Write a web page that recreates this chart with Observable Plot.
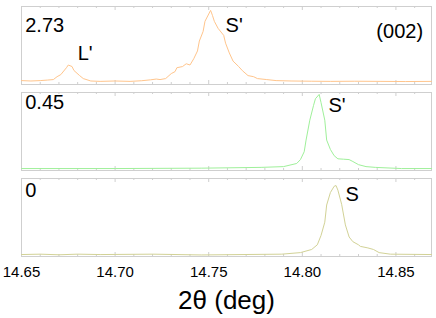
<!DOCTYPE html>
<html>
<head>
<meta charset="utf-8">
<script src="https://cdn.jsdelivr.net/npm/d3@7"></script>
<script src="https://cdn.jsdelivr.net/npm/@observablehq/plot@0.6"></script>
<style>
  html, body { margin: 0; padding: 0; background: #fff; }
  g[aria-label="x-axis label"] text { font-size: 26px; }
</style>
</head>
<body>
<div id="chart"></div>
<script>
// Panel names (field value shown in each panel)
const panels = ["2.73", "0.45", "0"];
const panelColors = ["#ffc58c", "#9ff09a", "#d2d296"];

// Panel "2.73": 2θ (deg) and relative intensity
const theta273 = [14.650, 14.655, 14.660, 14.664, 14.667, 14.669, 14.671, 14.674, 14.675, 14.677, 14.678, 14.681, 14.683, 14.687, 14.692, 14.700, 14.708, 14.714, 14.719, 14.722, 14.724, 14.727, 14.730, 14.732, 14.733, 14.736, 14.738, 14.740, 14.742, 14.744, 14.745, 14.747, 14.748, 14.751, 14.752, 14.753, 14.755, 14.758, 14.759, 14.761, 14.763, 14.766, 14.768, 14.771, 14.774, 14.776, 14.781, 14.786, 14.794, 14.805, 14.815, 14.828, 14.842, 14.855, 14.869];
const int273 = [0.050, 0.045, 0.050, 0.057, 0.063, 0.100, 0.127, 0.215, 0.250, 0.230, 0.180, 0.115, 0.076, 0.045, 0.040, 0.045, 0.040, 0.048, 0.060, 0.070, 0.063, 0.076, 0.140, 0.165, 0.215, 0.230, 0.266, 0.250, 0.330, 0.430, 0.557, 0.680, 0.810, 0.950, 0.886, 0.810, 0.720, 0.630, 0.530, 0.405, 0.300, 0.230, 0.177, 0.114, 0.100, 0.076, 0.063, 0.050, 0.045, 0.042, 0.040, 0.042, 0.040, 0.038, 0.040];

// Panel "0.45"
const theta045 = [14.650, 14.700, 14.746, 14.778, 14.790, 14.797, 14.799, 14.801, 14.802, 14.804, 14.806, 14.807, 14.809, 14.810, 14.812, 14.813, 14.815, 14.817, 14.819, 14.822, 14.825, 14.827, 14.830, 14.834, 14.839, 14.853, 14.869];
const int045 = [0.025, 0.025, 0.030, 0.040, 0.050, 0.090, 0.140, 0.240, 0.390, 0.645, 0.835, 0.920, 0.975, 0.870, 0.645, 0.390, 0.270, 0.190, 0.150, 0.145, 0.140, 0.115, 0.075, 0.050, 0.040, 0.025, 0.025];

// Panel "0"
const theta0 = [14.650, 14.660, 14.670, 14.680, 14.692, 14.720, 14.746, 14.789, 14.799, 14.805, 14.808, 14.810, 14.812, 14.813, 14.815, 14.817, 14.818, 14.819, 14.821, 14.823, 14.825, 14.827, 14.830, 14.831, 14.835, 14.838, 14.841, 14.847, 14.869];
const int0 = [0.025, 0.030, 0.022, 0.030, 0.025, 0.030, 0.020, 0.030, 0.050, 0.090, 0.150, 0.270, 0.440, 0.660, 0.820, 0.900, 0.910, 0.850, 0.670, 0.405, 0.250, 0.190, 0.150, 0.130, 0.110, 0.090, 0.050, 0.030, 0.025];

// Annotations: panel, text, x, y, anchor
const noteText = ["2.73", "L'", "S'", "(002)", "0.45", "S'", "0", "S"];
const notePanel = ["2.73", "2.73", "2.73", "2.73", "0.45", "0.45", "0", "0"];
const noteX = [14.652, 14.680, 14.759, 14.8645, 14.652, 14.814, 14.652, 14.823];
const noteY = [0.75, 0.39, 0.75, 0.68, 0.87, 0.83, 0.85, 0.79];
const noteAnchor = ["start", "start", "start", "end", "start", "start", "start", "start"];

// Axis ticks
const labelTicks = [14.65, 14.70, 14.75, 14.80, 14.85];
const minorTicks = [14.66, 14.67, 14.68, 14.69, 14.71, 14.72, 14.73, 14.74, 14.76, 14.77, 14.78, 14.79, 14.81, 14.82, 14.83, 14.84, 14.86];

const series = [[theta273, int273], [theta045, int045], [theta0, int0]];
const data = series.flatMap(([xs, ys], i) => xs.map((x, j) => ({panel: panels[i], x, y: ys[j]})));
const notes = noteText.map((t, i) => ({panel: notePanel[i], text: t, x: noteX[i], y: noteY[i], anchor: noteAnchor[i]}));

const chart = Plot.plot({
  width: 436,
  height: 318,
  marginLeft: 21,
  marginRight: 5,
  marginTop: 5,
  marginBottom: 61,
  style: {fontFamily: "'Liberation Sans', Arial, sans-serif", fontSize: "15px", background: "#fff", color: "#000"},
  x: {domain: [14.65, 14.869]},
  y: {domain: [0, 1], axis: null},
  fy: {domain: panels, axis: null, paddingInner: 0.09, paddingOuter: 0},
  color: {domain: panels, range: panelColors},
  marks: [
    Plot.frame({stroke: "#cfcfcf"}),
    Plot.tickX(minorTicks, {x: d => d, stroke: "#cfcfcf", insetBottom: 76}),
    Plot.tickX(minorTicks, {x: d => d, stroke: "#cfcfcf", insetTop: 76}),
    Plot.tickX(labelTicks, {x: d => d, stroke: "#cfcfcf", insetBottom: 74}),
    Plot.tickX(labelTicks, {x: d => d, stroke: "#cfcfcf", insetTop: 74}),
    Plot.line(data, {x: "x", y: "y", fy: "panel", z: "panel", stroke: "panel", strokeWidth: 1}),
    Plot.text(notes.filter(d => d.anchor === "start"), {x: "x", y: "y", fy: "panel", text: "text", textAnchor: "start", fontSize: 20, fill: "#000"}),
    Plot.text(notes.filter(d => d.anchor === "end"), {x: "x", y: "y", fy: "panel", text: "text", textAnchor: "end", fontSize: 20, fill: "#000"}),
    Plot.axisX({anchor: "bottom", ticks: labelTicks, tickFormat: d3.format(".2f"), tickSize: 0, tickPadding: 10,
      label: "2θ (deg)", labelAnchor: "center", labelArrow: "none", labelOffset: 52})
  ]
});
document.getElementById("chart").appendChild(chart);
</script>
</body>
</html>
